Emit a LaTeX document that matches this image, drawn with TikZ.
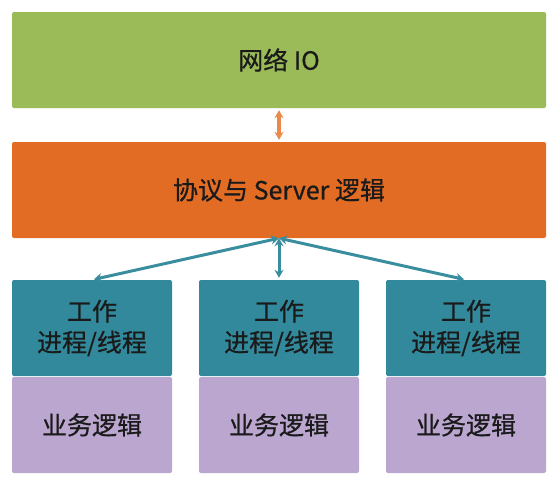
\documentclass[tikz,border=0pt]{standalone}
\usepackage{fontspec}
\setmainfont{Noto Sans CJK SC}[FakeBold=0.7]
\usetikzlibrary{arrows.meta}
\definecolor{netgreen}{HTML}{9BBB59}
\definecolor{srvorange}{HTML}{E36C25}
\definecolor{workteal}{HTML}{31899B}
\definecolor{logicpurple}{HTML}{BBA6CF}
\definecolor{linkorange}{HTML}{E9894A}
\definecolor{linkteal}{HTML}{3A8D9E}
\definecolor{inktext}{HTML}{1A1A1A}

\begin{document}
\begin{tikzpicture}[x=1pt, y=-1pt,
	box/.style={rounded corners=2pt, minimum height=96pt, inner sep=0pt, align=center,
		text=inktext, font=\fontsize{25}{31}\selectfont},
	wide/.style={box, minimum width=534pt},
	cell/.style={box, minimum width=160pt},
	link/.style={line width=3pt, {Stealth[length=8pt,width=9pt]}-{Stealth[length=8pt,width=9pt]}}]
	\useasboundingbox (0,0) rectangle (559,490);

	\node[wide, fill=netgreen] (N) at (279,60) {网络 IO};
	\node[wide, fill=srvorange] (P) at (279,190) {协议与 Server 逻辑};

	\node[cell, fill=workteal] (A) at (92,328) {工作\\进程/线程};
	\node[cell, fill=workteal] (B) at (279,328) {工作\\进程/线程};
	\node[cell, fill=workteal] (C) at (466,328) {工作\\进程/线程};

	\node[cell, fill=logicpurple] (D) at (92,425) {业务逻辑};
	\node[cell, fill=logicpurple] (E) at (279,425) {业务逻辑};
	\node[cell, fill=logicpurple] (F) at (466,425) {业务逻辑};

	\draw[link, draw=linkorange, line width=3.5pt, shorten <=2pt, shorten >=2pt] (N.south) -- (P.north);

	\draw[link, draw=linkteal, shorten >=2pt] (P.south) -- (A.north);
	\draw[link, draw=linkteal, shorten >=2pt] (P.south) -- (B.north);
	\draw[link, draw=linkteal, shorten >=2pt] (P.south) -- (C.north);
\end{tikzpicture}
\end{document}
